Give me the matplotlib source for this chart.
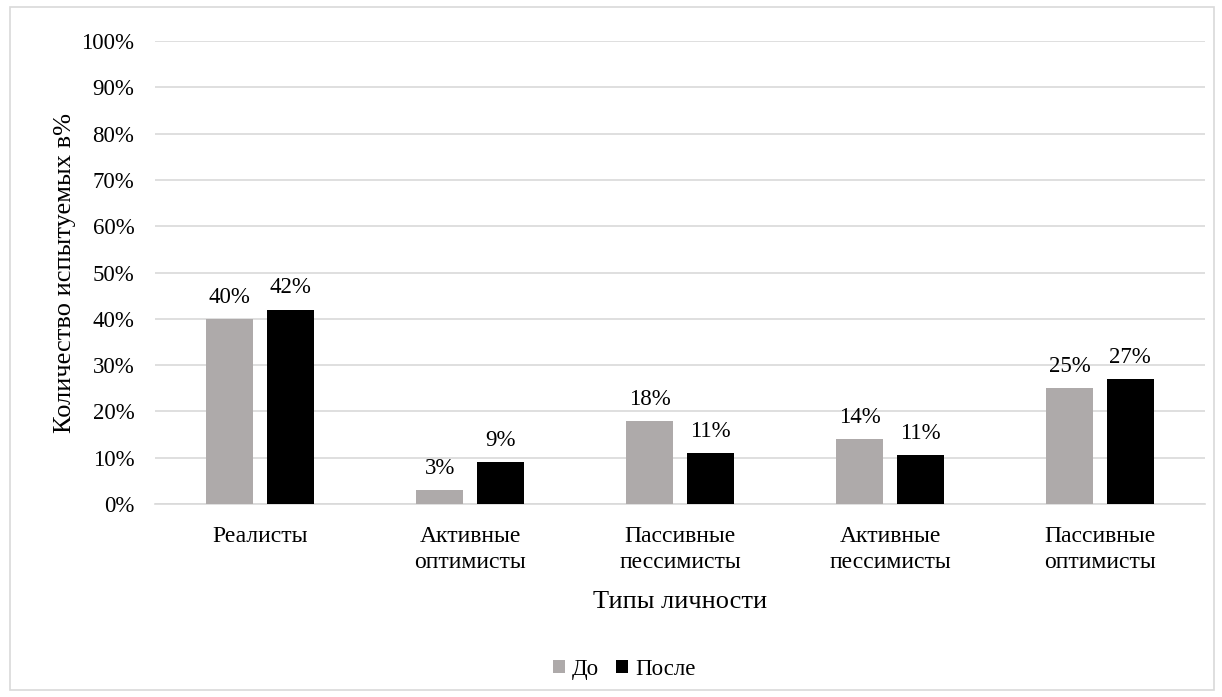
import matplotlib.pyplot as plt
import numpy as np
from matplotlib.patches import Rectangle

plt.rcParams['font.family'] = ['Liberation Serif', 'DejaVu Serif']

categories = ['Реалисты', 'Активные\nоптимисты', 'Пассивные\nпессимисты',
              'Активные\nпессимисты', 'Пассивные\nоптимисты']
before = [40, 3, 18, 14, 25]
after = [42, 9, 11, 10.5, 27]
before_labels = ['40%', '3%', '18%', '14%', '25%']
after_labels = ['42%', '9%', '11%', '11%', '27%']

fig = plt.figure(figsize=(12.22, 6.97), dpi=100)
ax = fig.add_axes([0.127, 0.277, 0.859, 0.664])

x = np.arange(len(categories))
w = 0.224
off = 0.145
b1 = ax.bar(x - off, before, w, color='#AEAAAA', label='До', zorder=3)
b2 = ax.bar(x + off, after, w, color='#000000', label='После', zorder=3)

for rect, lab in zip(b1, before_labels):
    ax.text(rect.get_x() + rect.get_width() / 2, rect.get_height() + 2.4, lab,
            ha='center', va='bottom', fontsize=16.5)
for rect, lab in zip(b2, after_labels):
    ax.text(rect.get_x() + rect.get_width() / 2, rect.get_height() + 2.4, lab,
            ha='center', va='bottom', fontsize=16.5)

ax.set_xlim(-0.5, len(categories) - 0.5)
ax.set_ylim(0, 100)
ax.set_yticks(np.arange(0, 101, 10))
ax.set_yticklabels([f'{v}%' for v in range(0, 101, 10)], fontsize=16.5)
ax.set_xticks(x)
ax.set_xticklabels(categories, fontsize=17, linespacing=1.3)
ax.tick_params(axis='y', length=0, pad=15)
ax.tick_params(axis='x', length=0, pad=16)
ax.grid(axis='y', color='#D9D9D9', linewidth=1.2, zorder=0)
for s in ['top', 'right', 'left']:
    ax.spines[s].set_visible(False)
ax.spines['bottom'].set_color('#D9D9D9')
ax.spines['bottom'].set_linewidth(1.2)

ax.set_xlabel('Типы личности', fontsize=19, labelpad=13)
ax.set_ylabel('Количество испытуемых в%', fontsize=19, labelpad=4)

fig.legend(handles=[b1, b2], labels=['До', 'После'], loc='center',
           bbox_to_anchor=(0.511, 0.04), ncol=2, frameon=False, fontsize=16.5,
           handlelength=0.52, handleheight=0.52, handletextpad=0.3, columnspacing=0.75)

fig.patches.append(Rectangle((10 / 1222, 7 / 697), 1204 / 1222, 683 / 697,
                             transform=fig.transFigure, fill=False,
                             edgecolor='#D9D9D9', linewidth=1.2))

fig.savefig('out.png', dpi=100)
